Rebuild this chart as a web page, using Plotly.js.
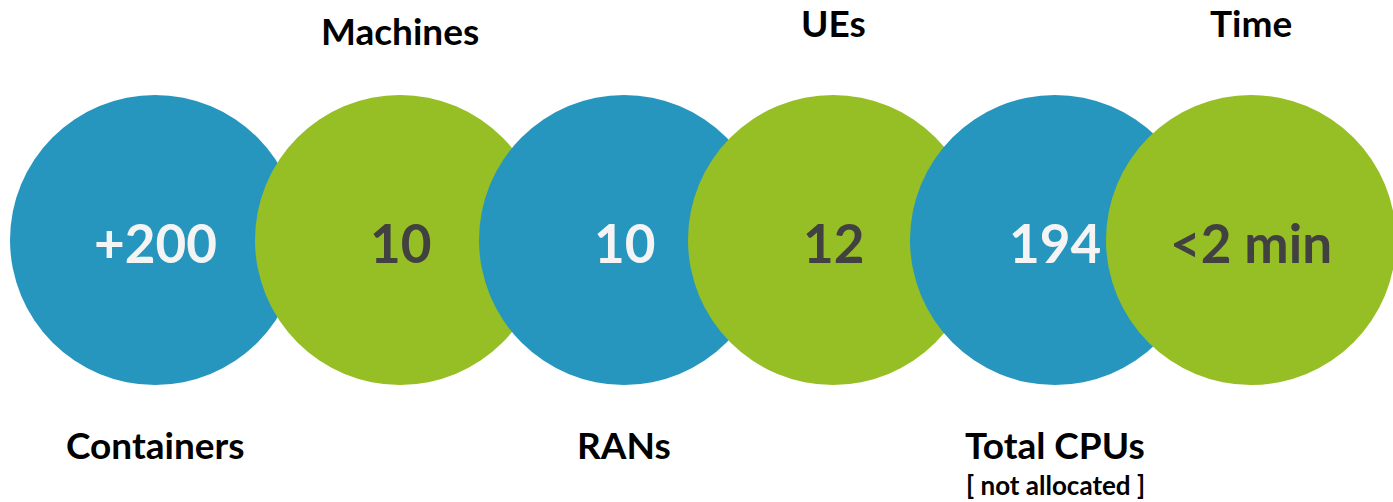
<!DOCTYPE html>
<html>
<head>
<meta charset="utf-8">
<script src="https://cdn.plot.ly/plotly-3.0.1.min.js"></script>
<style>html,body{margin:0;padding:0;background:#fff;}#chart{width:1393px;height:502px;}</style>
</head>
<body>
<div id="chart"></div>
<script>
// ---- data ----
const values = ['+200', '10', '10', '12', '194', '<2 min'];
const labels = ['Containers', 'Machines', 'RANs', 'UEs', 'Total CPUs', 'Time'];
const sublabels = ['', '', '', '', '[ not allocated ]', ''];

// ---- layout (pixel-like coordinates) ----
const centersX = [155, 400, 624, 833, 1055, 1251];
const centerY = 240;
const diameter = 290;
const labelY = [444, 30, 444, 22, 444, 22];
const fillColors = ['#2696bf', '#96bf26', '#2696bf', '#96bf26', '#2696bf', '#96bf26'];
const textColors = ['#f4f4f4', '#414141', '#f4f4f4', '#414141', '#f4f4f4', '#414141'];

const traces = centersX.map((x, i) => ({
  type: 'scatter', mode: 'markers',
  x: [x], y: [centerY],
  marker: {size: diameter, color: fillColors[i], line: {width: 0}, opacity: 1},
  hoverinfo: 'skip', showlegend: false
}));

const annotations = [];
values.forEach((v, i) => {
  annotations.push({
    x: centersX[i], y: centerY + 2, xref: 'x', yref: 'y', text: v, showarrow: false,
    font: {family: 'Lato', size: 53, color: textColors[i], weight: 700},
    xanchor: 'center', yanchor: 'middle'
  });
  annotations.push({
    x: centersX[i], y: labelY[i], xref: 'x', yref: 'y', text: labels[i], showarrow: false,
    font: {family: 'Lato', size: 37, color: '#000000', weight: 700},
    xanchor: 'center', yanchor: 'middle'
  });
  if (sublabels[i]) {
    annotations.push({
      x: centersX[i], y: labelY[i] + 41, xref: 'x', yref: 'y', text: sublabels[i], showarrow: false,
      font: {family: 'Lato', size: 26, color: '#000000', weight: 700},
      xanchor: 'center', yanchor: 'middle'
    });
  }
});

const layout = {
  width: 1393, height: 502,
  margin: {l: 0, r: 0, t: 0, b: 0, pad: 0},
  paper_bgcolor: '#ffffff', plot_bgcolor: '#ffffff',
  xaxis: {range: [0, 1393], visible: false, fixedrange: true},
  yaxis: {range: [502, 0], visible: false, fixedrange: true},
  annotations: annotations,
  showlegend: false
};

Plotly.newPlot('chart', traces, layout, {displayModeBar: false, staticPlot: true});
</script>
</body>
</html>
